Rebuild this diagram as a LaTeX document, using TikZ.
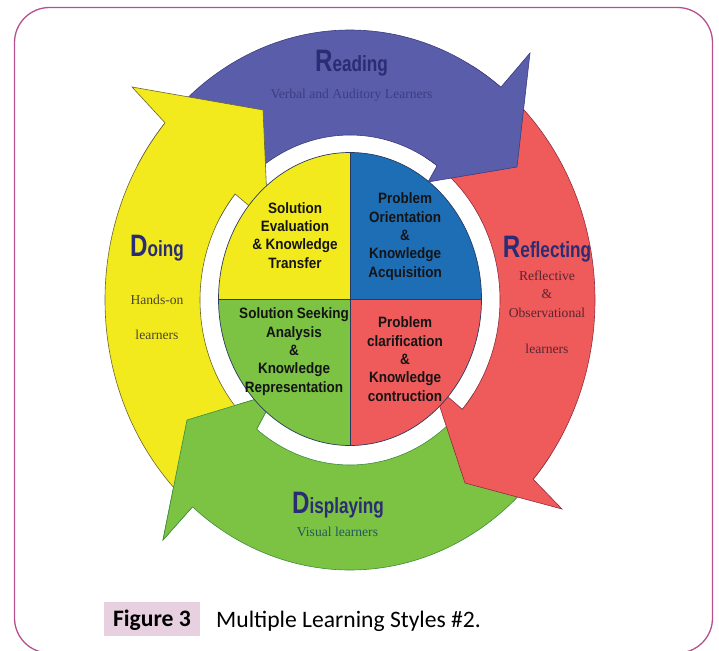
\documentclass[tikz,border=0pt]{standalone}
\usepackage{fontspec}
\setmainfont{Liberation Serif}
\newfontfamily\headfont[FakeStretch=0.78]{Liberation Sans}
\newfontfamily\quadfont[FakeStretch=0.9]{Liberation Sans}
\newfontfamily\capfont{Carlito}
\usetikzlibrary{positioning}

\definecolor{doyellow}{HTML}{F3EA1E}
\definecolor{doedge}{HTML}{6A6530}
\definecolor{readblue}{HTML}{5A5DAA}
\definecolor{readedge}{HTML}{3A3C80}
\definecolor{reflred}{HTML}{EF5A5B}
\definecolor{refledge}{HTML}{8E2E40}
\definecolor{dispgreen}{HTML}{7CC243}
\definecolor{dispedge}{HTML}{3E8E3E}
\definecolor{quadblue}{HTML}{1E6EB6}
\definecolor{quadline}{HTML}{2B3A60}
\definecolor{headnavy}{HTML}{2A2C74}
\definecolor{readsubcol}{HTML}{3C3E85}
\definecolor{dosubcol}{HTML}{4A4630}
\definecolor{reflsubcol}{HTML}{5A2530}
\definecolor{dispsubcol}{HTML}{1F5A5A}
\definecolor{framepink}{HTML}{B4508E}
\definecolor{capbg}{HTML}{E7D1E1}

\newcommand{\firstbig}[2]{{\fontsize{31}{31}\selectfont #1}#2}

\begin{document}
\begin{tikzpicture}[x=1pt, y=-1pt,
        every node/.style = {inner sep=0pt, align=center},
        outer arc/.style = {x radius=245, y radius=270},
        inner arc/.style = {x radius=150, y radius=165},
        disc arc/.style = {x radius=131.5, y radius=146.5},
        arrowpart/.style = {line width=0.6pt, line join=miter},
        heading/.style = {font=\headfont\bfseries\fontsize{22}{22}\selectfont,
                          text=headnavy, anchor=base},
        learner/.style = {font=\fontsize{13.6}{18.5}\selectfont, anchor=base},
        quadtext/.style = {font=\quadfont\bfseries\fontsize{15}{18.3}\selectfont,
                           text=black!92, anchor=base}]
    \useasboundingbox (0,0) rectangle (719,650);
    \clip (0,0) rectangle (719,650);
    \draw[framepink, line width=1.3pt, rounded corners=35pt] (14.5,7.5) rectangle (712.5,653);

    \coordinate (ctr) at (350,300);
    \coordinate (disc) at (350,299);

    % displaying (drawn first, head put back on top later)
    \filldraw[fill=dispgreen, draw=dispedge, arrowpart]
        ([shift={(35:245 and 270)}]ctr) arc[outer arc, start angle=35, end angle=130]
        -- (163,540) -- (187,420) -- (253,400) -- (275,395)
        -- ([shift={(128.5:150 and 165)}]ctr) arc[inner arc, start angle=128.5, end angle=35]
        -- cycle;
    % reflecting
    \filldraw[fill=reflred, draw=refledge, arrowpart]
        ([shift={(-60:245 and 270)}]ctr) arc[outer arc, start angle=-60, end angle=41.6]
        -- (562,509) -- (465,483) -- (432,383)
        -- ([shift={(41.5:150 and 165)}]ctr) arc[inner arc, start angle=41.5, end angle=-60]
        -- cycle;
    % reading
    \filldraw[fill=readblue, draw=readedge, arrowpart]
        ([shift={(-150:245 and 270)}]ctr) arc[outer arc, start angle=-150, end angle=-52]
        -- (530,53) -- (517,167) -- (428,182)
        -- ([shift={(-54.5:150 and 165)}]ctr) arc[inner arc, start angle=-54.5, end angle=-150]
        -- cycle;
    % doing
    \filldraw[fill=doyellow, draw=doedge, arrowpart]
        ([shift={(133:245 and 270)}]ctr) arc[outer arc, start angle=133, end angle=221]
        -- (132,87) -- (263,110) -- (268,222)
        -- ([shift={(220:150 and 165)}]ctr) arc[inner arc, start angle=220, end angle=133]
        -- cycle;
    % green head over the yellow tail
    \fill[dispgreen] ([shift={(130:245 and 270)}]ctr) -- (163,540) -- (187,420)
        -- (253,400) -- (275,395) -- ([shift={(128.5:150 and 165)}]ctr) -- cycle;
    \draw[dispedge, arrowpart] ([shift={(130:245 and 270)}]ctr) -- (163,540) -- (187,420)
        -- (253,400) -- (275,395) -- ([shift={(128.5:150 and 165)}]ctr);

    % centre disc
    \foreach \a/\col in {180/doyellow, 270/quadblue, 0/reflred, 90/dispgreen}
        \fill[\col] (disc) -- ([shift={(\a:131.5 and 146.5)}]disc)
            arc[disc arc, start angle=\a, delta angle=90] -- cycle;
    \draw[quadline, line width=0.7pt] (disc) ellipse[x radius=131.5, y radius=146.5];
    \draw[quadline, line width=0.7pt] ([shift={(180:131.5 and 146.5)}]disc) -- ([shift={(0:131.5 and 146.5)}]disc);
    \draw[quadline, line width=0.7pt] ([shift={(270:131.5 and 146.5)}]disc) -- ([shift={(90:131.5 and 146.5)}]disc);

    \node[quadtext] (evaluate) at (295,268) {Solution\\Evaluation\\\& Knowledge\\Transfer};
    \node[quadtext] (orient) at (405,277) {Problem\\Orientation\\\&\\Knowledge\\Acquisition};
    \node[quadtext] (seek) at (294,392) {Solution Seeking\\Analysis\\\&\\Knowledge\\Representation};
    \node[quadtext] (clarify) at (405,401) {Problem\\clarification\\\&\\Knowledge\\contruction};

    % arrow labels
    \node[heading] (reading) at (351.5,72) {\firstbig{R}{eading}};
    \node[learner, text=readsubcol] (readsub) at (351.5,99) {Verbal and Auditory Learners};
    \node[heading] (doing) at (157,256) {\firstbig{D}{oing}};
    \node[learner, text=dosubcol] (dosub) at (157,339) {Hands-on\\[16.5pt]learners};
    \node[heading] (reflecting) at (547,257) {\firstbig{R}{eflecting}};
    \node[learner, text=reflsubcol] (reflsub) at (547,353) {Reflective\\\&\\Observational\\[17.5pt]learners};
    \node[heading] (displaying) at (338,513) {\firstbig{D}{isplaying}};
    \node[learner, text=dispsubcol] (dispsub) at (337.5,536) {Visual learners};

    % caption
    \node[fill=capbg, minimum width=96pt, minimum height=34pt, text height=15pt, text depth=0pt,
          font=\capfont\bfseries\fontsize{23.6}{24}\selectfont] (figlabel) at (152,619) {Figure 3};
    \node[anchor=base west, font=\capfont\fontsize{23.6}{24}\selectfont] (figtitle) at (216,627)
        {Multiple Learning Styles \#2.};
\end{tikzpicture}
\end{document}
